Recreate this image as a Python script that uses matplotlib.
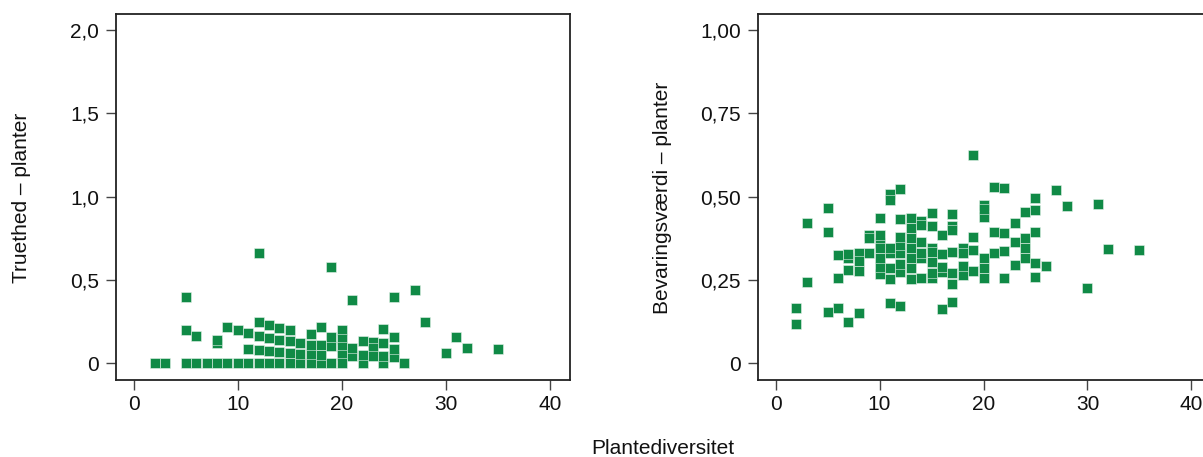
import matplotlib
matplotlib.use("Agg")
import matplotlib.pyplot as plt

# ---- data: Truethed - planter (left panel) ----
trueth_x = [2, 3, 5, 5, 5, 6, 6, 7, 8, 8, 8, 9, 9, 10, 10,
            11, 11, 11, 12, 12, 12, 12, 12, 13, 13, 13, 13,
            14, 14, 14, 14, 15, 15, 15, 15, 16, 16, 16,
            17, 17, 17, 17, 18, 18, 18, 18, 19, 19, 19, 19,
            20, 20, 20, 20, 20, 21, 21, 21, 22, 22, 22,
            23, 23, 23, 24, 24, 24, 24, 25, 25, 25, 25,
            26, 27, 28, 30, 31, 32, 35]
trueth_y = [0, 0, 0, 0.2, 0.4, 0, 0.165, 0, 0, 0.12, 0.143, 0, 0.22, 0, 0.2,
            0, 0.088, 0.18, 0, 0.082, 0.165, 0.248, 0.665, 0, 0.075, 0.152, 0.23,
            0, 0.07, 0.14, 0.21, 0, 0.065, 0.132, 0.198, 0, 0.058, 0.122,
            0, 0.055, 0.113, 0.174, 0, 0.053, 0.108, 0.218, 0, 0.102, 0.158, 0.577,
            0.203, 0.146, 0.098, 0.048, 0, 0.042, 0.092, 0.378, 0, 0.05, 0.134,
            0.13, 0.09, 0.042, 0, 0.047, 0.122, 0.206, 0.038, 0.085, 0.158, 0.398,
            0, 0.442, 0.25, 0.065, 0.16, 0.092, 0.085]

# ---- data: Bevaringsværdi - planter (right panel) ----
bev_x = [2, 2, 3, 3, 5, 5, 5, 6, 6, 6, 7, 7, 7, 7, 8, 8, 8, 8, 9, 9, 9,
         10, 10, 10, 10, 10, 10, 10, 11, 11, 11, 11, 11, 11, 11,
         12, 12, 12, 12, 12, 12, 12, 12, 13, 13, 13, 13, 13, 13, 13,
         14, 14, 14, 14, 14, 14, 15, 15, 15, 15, 15, 15, 15,
         16, 16, 16, 16, 16, 17, 17, 17, 17, 17, 17, 17,
         18, 18, 18, 18, 19, 19, 19, 19, 20, 20, 20, 20, 20, 20,
         21, 21, 21, 22, 22, 22, 22, 23, 23, 23, 24, 24, 24, 24,
         25, 25, 25, 25, 25, 26, 27, 28, 30, 31, 32, 35]
bev_y = [0.119, 0.167, 0.244, 0.422, 0.155, 0.393, 0.466, 0.167, 0.255, 0.325,
         0.124, 0.279, 0.315, 0.327, 0.152, 0.277, 0.33, 0.308, 0.332, 0.385, 0.377,
         0.268, 0.29, 0.317, 0.36, 0.347, 0.385, 0.437,
         0.18, 0.253, 0.285, 0.33, 0.345, 0.507, 0.49,
         0.172, 0.275, 0.298, 0.33, 0.355, 0.38, 0.433, 0.522,
         0.253, 0.285, 0.317, 0.345, 0.375, 0.405, 0.435,
         0.257, 0.315, 0.33, 0.365, 0.428, 0.415,
         0.255, 0.27, 0.305, 0.345, 0.335, 0.413, 0.45,
         0.164, 0.275, 0.29, 0.327, 0.385,
         0.185, 0.237, 0.272, 0.335, 0.413, 0.40, 0.447,
         0.265, 0.293, 0.345, 0.33, 0.277, 0.34, 0.38, 0.625,
         0.255, 0.287, 0.315, 0.438, 0.475, 0.463,
         0.33, 0.395, 0.53, 0.256, 0.338, 0.392, 0.525,
         0.295, 0.364, 0.42, 0.317, 0.347, 0.377, 0.455,
         0.26, 0.302, 0.393, 0.46, 0.497, 0.293, 0.519, 0.471, 0.227, 0.477, 0.344, 0.34]

x_ticks = [0, 10, 20, 30, 40]
x_ticklabels = ["0", "10", "20", "30", "40"]
left_yticks = [0, 0.5, 1.0, 1.5, 2.0]
left_yticklabels = ["0", "0,5", "1,0", "1,5", "2,0"]
right_yticks = [0, 0.25, 0.5, 0.75, 1.0]
right_yticklabels = ["0", "0,25", "0,50", "0,75", "1,00"]

plt.rcParams['font.family'] = ['Liberation Sans', 'DejaVu Sans']
plt.rcParams['font.size'] = 15

GREEN = "#108a46"
SPINE = "#222222"
TICK = "#444444"

W, H = 1203, 457
fig = plt.figure(figsize=(W / 100, H / 100), dpi=100)

ax_w = 453.5 / W
ax_b = 1 - 379.5 / H
ax_h = (379.5 - 14) / H
ax1 = fig.add_axes([116 / W, ax_b, ax_w, ax_h])
ax2 = fig.add_axes([757.7 / W, ax_b, ax_w, ax_h])

def style(ax, yticks, ylabels, ylim):
    ax.set_xlim(-1.72, 41.9)
    ax.set_ylim(*ylim)
    ax.set_xticks(x_ticks)
    ax.set_xticklabels(x_ticklabels)
    ax.set_yticks(yticks)
    ax.set_yticklabels(ylabels)
    for s in ax.spines.values():
        s.set_color(SPINE)
        s.set_linewidth(1.3)
    ax.tick_params(axis='both', direction='out', length=7.5, width=1.0,
                   color=TICK, labelcolor='#111111', labelsize=15)
    ax.tick_params(axis='x', pad=4)
    ax.tick_params(axis='y', pad=4.5)

ax1.scatter(trueth_x, trueth_y, marker='s', s=46, color=GREEN,
            edgecolors='#e6f2ea', linewidths=0.4, zorder=3, clip_on=False)
style(ax1, left_yticks, left_yticklabels, (-0.097, 2.096))

ax2.scatter(bev_x, bev_y, marker='s', s=46, color=GREEN,
            edgecolors='#e6f2ea', linewidths=0.4, zorder=3, clip_on=False)
style(ax2, right_yticks, right_yticklabels, (-0.0486, 1.048))

fig.text(21.5 / W, 1 - 197.5 / H, "Truethed \u2013 planter", rotation=90,
         ha='center', va='center', fontsize=15, color='#111111')
fig.text(662.5 / W, 1 - 197.5 / H, "Bevaringsværdi \u2013 planter", rotation=90,
         ha='center', va='center', fontsize=15, color='#111111')
fig.text(663 / W, 1 - 448 / H, "Plantediversitet", ha='center', va='center',
         fontsize=15, color='#111111')

fig.savefig("out.png", dpi=100)
